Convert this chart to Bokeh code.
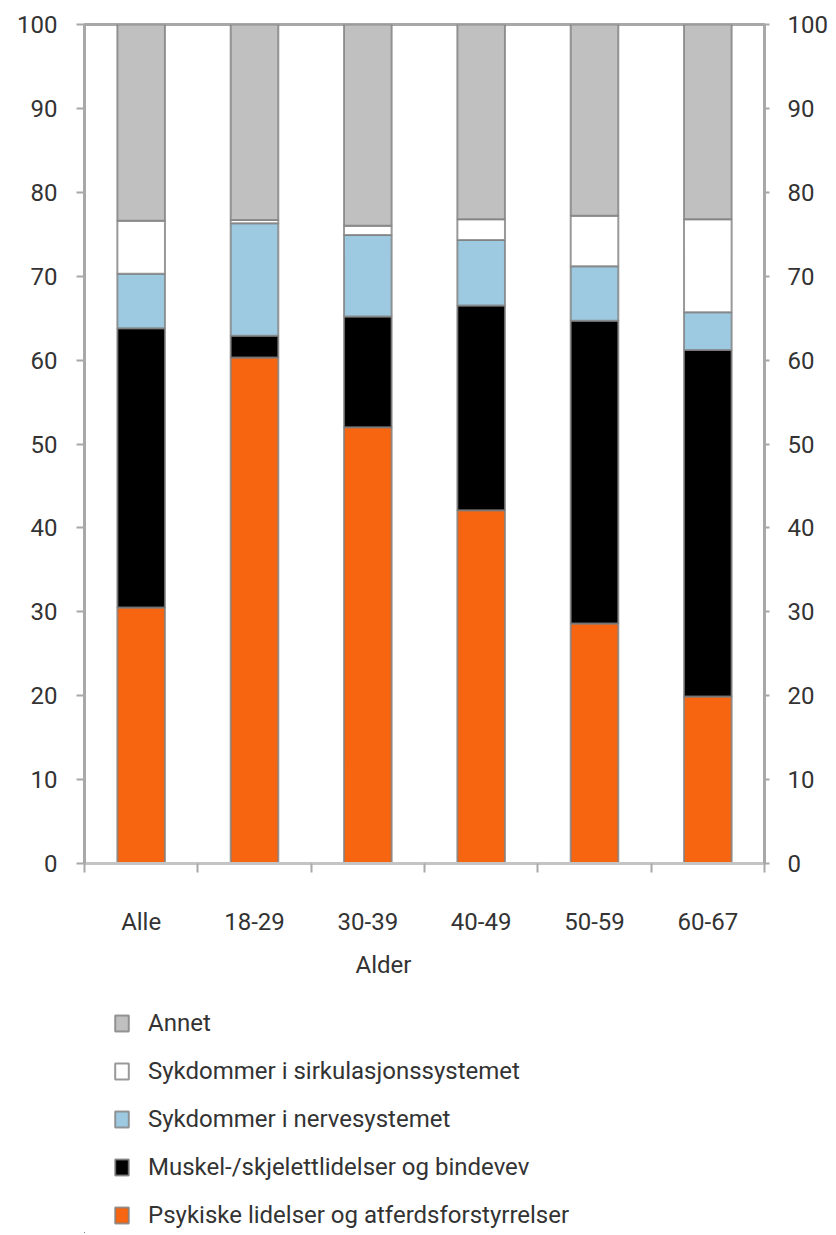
from bokeh.plotting import figure
from bokeh.models import Range1d, LinearAxis, FixedTicker, Legend, LegendItem, Title, ColumnDataSource
from bokeh.layouts import column
from bokeh.embed import file_html
from bokeh.resources import INLINE

categories = ["Alle", "18-29", "30-39", "40-49", "50-59", "60-67"]
psykiske = [30.5, 60.3, 52.0, 42.1, 28.6, 19.9]
muskel = [33.3, 2.6, 13.2, 24.4, 36.1, 41.3]
nerve = [6.5, 13.4, 9.7, 7.8, 6.5, 4.5]
sirkulasjon = [6.3, 0.4, 1.1, 2.5, 6.0, 11.1]
annet = [23.4, 23.3, 24.0, 23.2, 22.8, 23.2]
series_keys = ["psyk", "muskel", "nerve", "sirk", "annet"]
series_labels = [
    "Psykiske lidelser og atferdsforstyrrelser",
    "Muskel-/skjelettlidelser og bindevev",
    "Sykdommer i nervesystemet",
    "Sykdommer i sirkulasjonssystemet",
    "Annet",
]
series_colors = ["#F76511", "#000000", "#9ECAE1", "#FFFFFF", "#C0C0C0"]
y_ticks = [0, 10, 20, 30, 40, 50, 60, 70, 80, 90, 100]
x_title = "Alder"

FONT = "Roboto"
FS = "24px"
TXT = "#333333"
AX = "#a8a8a8"
EDGE = dict(line_color="#808080", line_alpha=0.8, line_width=2)

n = len(categories)
centers = [i + 0.5 for i in range(n)]
bounds = list(range(n + 1))

source = ColumnDataSource(dict(x=centers, psyk=psykiske, muskel=muskel, nerve=nerve,
                               sirk=sirkulasjon, annet=annet))

p = figure(frame_width=680, frame_height=839, x_range=Range1d(0, n), y_range=Range1d(0, 100),
           output_backend="svg", toolbar_location=None,
           min_border_left=84, min_border_right=66, min_border_top=24, min_border_bottom=127)
p.xgrid.visible = False
p.ygrid.visible = False
p.outline_line_color = AX
p.outline_line_width = 3

p.vbar_stack(series_keys, x="x", width=0.42, source=source, fill_color=series_colors, **EDGE)

# x axis
xa = p.xaxis[0]
xa.ticker = FixedTicker(ticks=centers, minor_ticks=bounds)
xa.major_label_overrides = {c: lab for c, lab in zip(centers, categories)}
xa.major_tick_out = 0
xa.major_tick_in = 0
xa.minor_tick_out = 9
xa.minor_tick_in = 0
xa.minor_tick_line_color = AX
xa.minor_tick_line_width = 2
xa.axis_line_color = "#c4c4c4"
xa.axis_line_width = 3
xa.major_label_standoff = 35
xa.major_label_text_font = FONT
xa.major_label_text_font_size = FS
xa.major_label_text_color = TXT

# y axes
def style_y(ax, tick_out, standoff):
    ax.ticker = FixedTicker(ticks=y_ticks)
    ax.major_tick_out = tick_out
    ax.major_tick_in = 0
    ax.major_tick_line_color = AX
    ax.major_tick_line_width = 2
    ax.minor_tick_line_color = None
    ax.axis_line_color = AX
    ax.axis_line_width = 3
    ax.major_label_standoff = standoff
    ax.major_label_text_font = FONT
    ax.major_label_text_font_size = FS
    ax.major_label_text_color = TXT

style_y(p.yaxis[0], 8, 19)
ra = LinearAxis()
style_y(ra, 5, 18)
p.add_layout(ra, "right")

t = Title(text=x_title, align="left", offset=271, text_font=FONT, text_font_size=FS,
          text_font_style="normal", text_color=TXT, standoff=21)
p.add_layout(t, "below")

# legend in its own panel below the chart (its bars lie far outside its visible ranges)
lg = figure(width=830, height=243, x_range=Range1d(1000, 1001), y_range=Range1d(1000, 1100),
            output_backend="svg", toolbar_location=None, min_border=0,
            x_axis_location=None, y_axis_location=None, outline_line_color=None)
lg.grid.visible = False
proxies = lg.vbar_stack(series_keys, x="x", width=0.42, source=source,
                        fill_color=series_colors, **EDGE)
items = [LegendItem(label=lab, renderers=[r]) for lab, r in zip(series_labels, proxies)]
legend = Legend(items=items[::-1], location=(29, 3), margin=0, padding=0,
                border_line_color=None, background_fill_alpha=0,
                label_text_font=FONT, label_text_font_size=FS, label_text_color=TXT,
                label_height=30, glyph_width=17, glyph_height=20, label_standoff=18,
                spacing=18)
lg.add_layout(legend, "center")

open("out.html", "w").write(file_html(column(p, lg), INLINE))
